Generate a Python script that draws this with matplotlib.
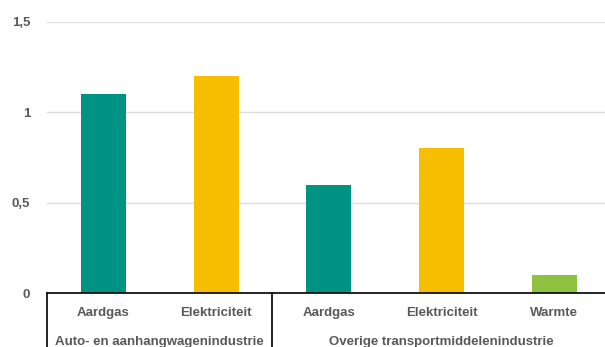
import matplotlib
matplotlib.use("Agg")
import matplotlib.pyplot as plt
from matplotlib.transforms import blended_transform_factory

categories = ["Aardgas", "Elektriciteit", "Aardgas", "Elektriciteit", "Warmte"]
values = [1.1, 1.2, 0.6, 0.8, 0.1]
colors = ["#009384", "#F5BE00", "#009384", "#F5BE00", "#8DC13F"]
groups = ["Auto- en aanhangwagenindustrie", "Overige transportmiddelenindustrie"]
group_spans = [(-0.5, 1.5), (1.5, 4.5)]
yticks = [0, 0.5, 1, 1.5]
ytick_labels = ["0", "0,5", "1", "1,5"]

plt.rcParams['font.family'] = ['Liberation Sans', 'DejaVu Sans']
text_col = "#595959"

W, H = 605, 347
fig = plt.figure(figsize=(W / 100, H / 100), dpi=100)
ax = fig.add_axes([47 / W, (H - 293) / H, 563.5 / W, (293 - 22) / H])

x = list(range(len(categories)))
ax.bar(x, values, width=0.4, color=colors, zorder=3)
ax.set_xlim(-0.5, 4.5)
ax.set_ylim(0, 1.5)

ax.set_yticks(yticks)
ax.set_yticklabels(ytick_labels, fontsize=9.5, fontweight='bold', color=text_col)
ax.tick_params(axis='y', length=0, pad=12)
ax.yaxis.grid(True, color="#DEDEDE", linewidth=1, zorder=0)

ax.set_xticks(x)
ax.set_xticklabels(categories, fontsize=9.5, fontweight='bold', color=text_col)
ax.tick_params(axis='x', length=0, pad=10)

for s in ['top', 'right', 'left']:
    ax.spines[s].set_visible(False)
ax.spines['bottom'].set_color('black')
ax.spines['bottom'].set_linewidth(1.2)
ax.spines['bottom'].set_zorder(4)

# groepslabels onder de as, met scheidingslijnen
tr = blended_transform_factory(ax.transData, ax.transAxes)
depth = 60 / (293 - 22)
for (a, b), name in zip(group_spans, groups):
    ax.plot([a, a], [0, -depth], color='black', linewidth=1.2, transform=tr, clip_on=False)
    ax.text((a + b) / 2 if b < 4.5 else 3, -49 / (293 - 22), name, transform=tr,
            ha='center', va='center', fontsize=9.5, fontweight='bold', color=text_col)

fig.savefig("out.png", dpi=100)
